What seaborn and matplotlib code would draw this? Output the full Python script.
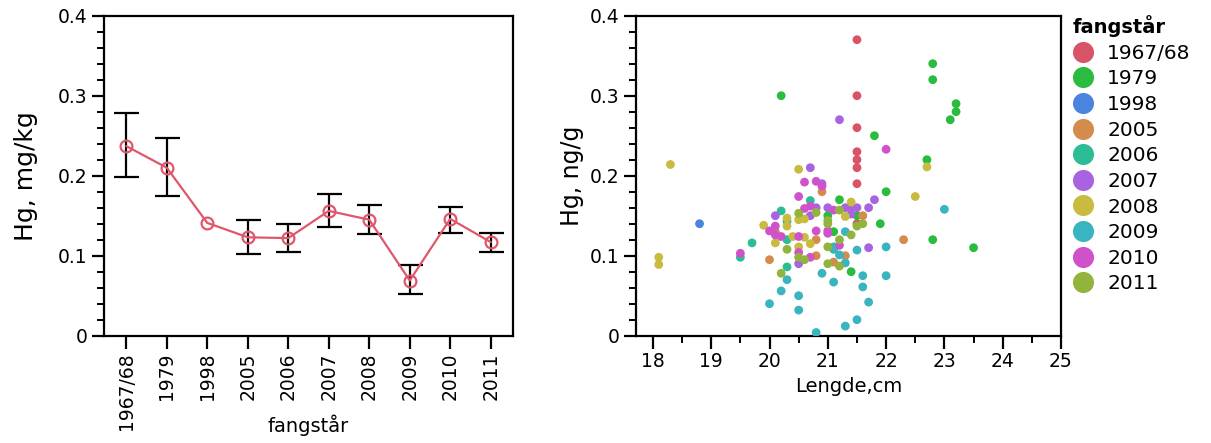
import matplotlib
matplotlib.use("Agg")
import matplotlib.pyplot as plt
from matplotlib.ticker import MultipleLocator
import numpy as np
import pandas as pd
import seaborn as sns

# --- Mean mercury per catch year (left panel) ---
years = ["1967/68", "1979", "1998", "2005", "2006", "2007", "2008", "2009", "2010", "2011"]
mean_hg = [0.237, 0.210, 0.141, 0.123, 0.122, 0.156, 0.145, 0.069, 0.146, 0.117]
err_low = [0.198, 0.175, np.nan, 0.102, 0.105, 0.136, 0.127, 0.052, 0.129, 0.105]
err_high = [0.278, 0.247, np.nan, 0.145, 0.140, 0.177, 0.164, 0.089, 0.161, 0.129]

# --- Individual fish: length (cm) and Hg per catch year (right panel) ---
len_1967 = [21.5, 21.5, 21.5, 21.5, 21.5, 21.5, 21.5, 21.5]
hg_1967 = [0.37, 0.30, 0.26, 0.23, 0.22, 0.21, 0.19, 0.14]

len_1979 = [22.8, 22.8, 23.2, 23.2, 23.1, 21.8, 22.7, 22.0, 21.2, 21.9, 22.8, 23.5, 21.4, 21.0, 21.1, 21.5, 20.2]
hg_1979 = [0.34, 0.32, 0.29, 0.28, 0.27, 0.25, 0.22, 0.18, 0.17, 0.14, 0.12, 0.11, 0.08, 0.15, 0.13, 0.15, 0.30]

len_1998 = [18.8]
hg_1998 = [0.14]

len_2005 = [20.9, 21.6, 20.0, 22.3, 20.8, 20.8, 21.1, 21.3, 20.1]
hg_2005 = [0.18, 0.15, 0.095, 0.12, 0.12, 0.10, 0.092, 0.10, 0.13]

len_2006 = [19.7, 20.2, 20.7, 20.3, 20.3, 20.3, 19.5, 21.1]
hg_2006 = [0.116, 0.156, 0.169, 0.143, 0.12, 0.086, 0.098, 0.108]

len_2007 = [21.2, 20.7, 20.9, 21.8, 21.7, 20.1, 20.8, 21.0, 21.3, 21.4, 21.5, 20.7, 20.5, 21.7, 21.4]
hg_2007 = [0.27, 0.21, 0.19, 0.17, 0.16, 0.15, 0.16, 0.16, 0.16, 0.16, 0.16, 0.15, 0.09, 0.11, 0.152]

len_2008 = [18.3, 18.1, 18.1, 20.5, 22.7, 22.5, 21.4, 21.3, 19.9, 20.1, 20.3, 20.5, 20.5, 20.6, 20.4, 20.6, 20.7, 20.3]
hg_2008 = [0.214, 0.098, 0.089, 0.208, 0.211, 0.174, 0.167, 0.149, 0.138, 0.116, 0.147, 0.111, 0.145, 0.146,
           0.124, 0.123, 0.115, 0.137]

len_2009 = [23.0, 20.0, 20.2, 20.3, 20.5, 20.5, 20.8, 20.9, 21.1, 21.3, 21.5, 21.7, 21.6, 21.6, 22.0, 22.0,
            21.5, 21.3, 21.2, 21.1, 21.3]
hg_2009 = [0.158, 0.04, 0.056, 0.07, 0.05, 0.032, 0.004, 0.078, 0.067, 0.012, 0.02, 0.042, 0.061, 0.075, 0.075,
           0.111, 0.107, 0.091, 0.101, 0.111, 0.13]

len_2010 = [22.0, 20.6, 20.8, 20.5, 20.9, 20.6, 20.7, 21.1, 19.5, 20.0, 20.1, 20.1, 20.2, 20.5, 20.5, 20.8,
            21.0, 21.0, 20.7, 21.2]
hg_2010 = [0.233, 0.192, 0.193, 0.174, 0.187, 0.159, 0.162, 0.157, 0.103, 0.131, 0.137, 0.126, 0.124, 0.104,
           0.124, 0.131, 0.131, 0.128, 0.098, 0.113]

len_2011 = [20.2, 20.3, 20.5, 20.8, 21.0, 21.0, 21.0, 21.0, 21.2, 21.2, 21.2, 21.4, 21.5, 21.6, 20.5, 20.6]
hg_2011 = [0.078, 0.108, 0.153, 0.154, 0.144, 0.14, 0.111, 0.09, 0.12, 0.087, 0.157, 0.126, 0.137, 0.14,
           0.098, 0.095]

year_colors = ["#d95466", "#2bbb3e", "#4a84de", "#d48c4d", "#2dbd96",
               "#a864e0", "#c8bb40", "#38b5c0", "#d052ca", "#92b33c"]

fish_lengths = [len_1967, len_1979, len_1998, len_2005, len_2006, len_2007, len_2008, len_2009, len_2010, len_2011]
fish_hg = [hg_1967, hg_1979, hg_1998, hg_2005, hg_2006, hg_2007, hg_2008, hg_2009, hg_2010, hg_2011]

fish = pd.concat(
    [pd.DataFrame({"Lengde": l, "Hg": h, "fangstår": y}) for y, l, h in zip(years, fish_lengths, fish_hg)],
    ignore_index=True,
)
means = pd.DataFrame({"pos": np.arange(len(years)), "fangstår": years, "Hg": mean_hg,
                      "lo": err_low, "hi": err_high})

sns.set_style("white")
plt.rcParams["font.family"] = ["DejaVu Sans"]
plt.rcParams["text.color"] = "black"
plt.rcParams["axes.labelcolor"] = "black"
plt.rcParams["axes.linewidth"] = 1.6
plt.rcParams["xtick.major.width"] = 1.6
plt.rcParams["ytick.major.width"] = 1.6
plt.rcParams["xtick.minor.width"] = 1.4
plt.rcParams["ytick.minor.width"] = 1.4

fig = plt.figure(figsize=(12.11, 4.43), dpi=100)
ax1 = fig.add_axes([104 / 1211, 1 - 335.7 / 443, 409 / 1211, 320 / 443])
ax2 = fig.add_axes([636 / 1211, 1 - 335.7 / 443, 425 / 1211, 320 / 443])

line_color = "#e0566a"

# Left panel: mean with error bars
has_err = means.dropna()
ax1.errorbar(has_err["pos"], has_err["Hg"],
             yerr=[has_err["Hg"] - has_err["lo"], has_err["hi"] - has_err["Hg"]],
             fmt="none", ecolor="black", elinewidth=1.6, capsize=9, capthick=1.6, zorder=2)
sns.lineplot(data=means, x="pos", y="Hg", ax=ax1, color=line_color, linewidth=1.6,
             marker="o", markersize=8.5, markerfacecolor="none", markeredgecolor=line_color,
             markeredgewidth=1.6, zorder=3)

ax1.set_xlim(-0.55, 9.55)
ax1.set_ylim(0, 0.4)
ax1.set_xticks(means["pos"])
ax1.set_xticklabels(years, rotation=90, fontsize=13.5)
ax1.set_yticks([0, 0.1, 0.2, 0.3, 0.4])
ax1.set_yticklabels(["0", "0.1", "0.2", "0.3", "0.4"], fontsize=13.5)
ax1.yaxis.set_minor_locator(MultipleLocator(0.02))
ax1.set_xlabel("fangstår", fontsize=14, color="black")
ax1.xaxis.set_label_coords(0.499, -0.245)
ax1.set_ylabel("Hg, mg/kg", fontsize=18, labelpad=14, color="black")

# Right panel: individual fish
sns.scatterplot(data=fish, x="Lengde", y="Hg", hue="fangstår", hue_order=years,
                palette=year_colors, s=40, linewidth=0, ax=ax2, zorder=3)
ax2.set_xlim(17.71, 25.0)
ax2.set_ylim(0, 0.4)
ax2.set_xticks(range(18, 26))
ax2.set_xticklabels([str(v) for v in range(18, 26)], fontsize=13.5)
ax2.xaxis.set_minor_locator(MultipleLocator(0.5))
ax2.set_yticks([0, 0.1, 0.2, 0.3, 0.4])
ax2.set_yticklabels(["0", "0.1", "0.2", "0.3", "0.4"], fontsize=13.5)
ax2.yaxis.set_minor_locator(MultipleLocator(0.02))
ax2.set_xlabel("Lengde,cm", fontsize=14, color="black")
ax2.set_ylabel("Hg, ng/g", fontsize=17, color="black")

for ax in (ax1, ax2):
    for sp in ax.spines.values():
        sp.set_visible(True)
        sp.set_color("black")
    ax.tick_params(axis="both", which="major", direction="out", length=9, colors="black",
                   labelcolor="black", left=True, bottom=True, top=False, right=False, pad=3)
    ax.tick_params(axis="both", which="minor", direction="out", length=5, colors="black",
                   left=True, bottom=True, top=False, right=False)
    ax.grid(False)
ax1.tick_params(axis="x", which="minor", bottom=False)

sns.move_legend(ax2, "upper left", bbox_to_anchor=(1073 / 1211, 1 - 15 / 443),
                bbox_transform=fig.transFigure, frameon=False, title="fangstår",
                fontsize=14.5, markerscale=2.4, handlelength=1.0, handletextpad=0.7,
                labelspacing=0.33, borderpad=0, borderaxespad=0)
leg = ax2.get_legend()
leg.get_title().set_fontweight("bold")
leg.get_title().set_fontsize(14)
leg.get_title().set_color("black")
for t in leg.get_texts():
    t.set_color("black")
leg._legend_box.align = "left"

fig.savefig("out.png", dpi=100)
